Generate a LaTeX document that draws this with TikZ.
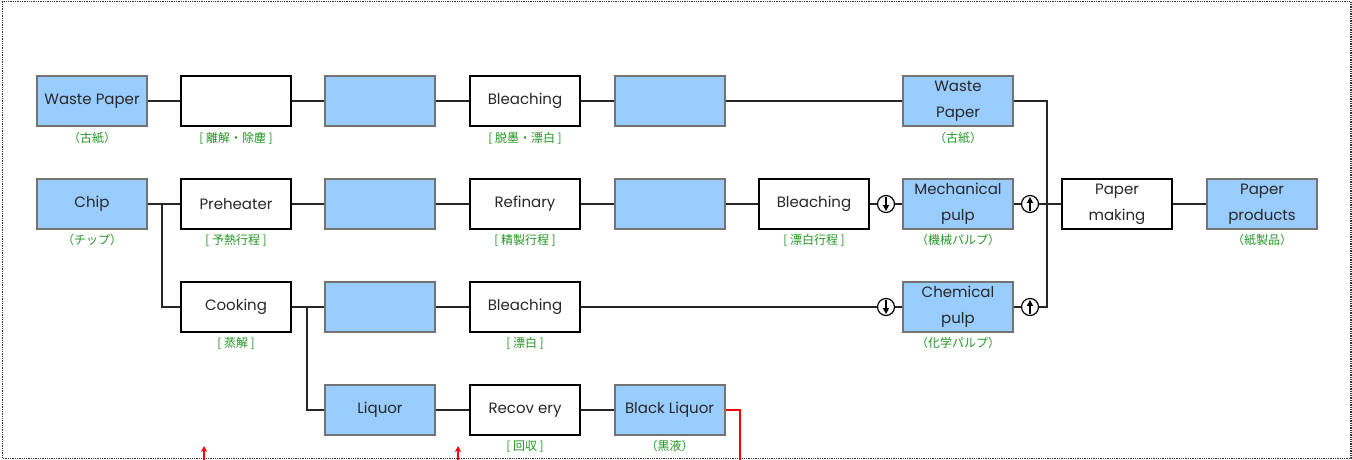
\documentclass[tikz,border=0pt]{standalone}
\usepackage{fontspec}
\setmainfont{Poppins}
\newfontfamily\cjk{Noto Sans CJK JP}
\usetikzlibrary{arrows.meta}
\definecolor{boxblue}{RGB}{153,204,255}
\definecolor{lblgreen}{RGB}{34,150,34}
\definecolor{txt}{RGB}{40,40,40}
\tikzset{
  blu/.style={draw=gray!90!black, line width=2pt, fill=boxblue, minimum width=110pt, minimum height=50pt, inner sep=0pt, align=center, text=txt, font=\fontsize{15}{26}\selectfont},
  proc/.style={draw=black, line width=2.2pt, fill=white, minimum width=110pt, minimum height=50pt, inner sep=0pt, align=center, text=txt, font=\fontsize{15}{26}\selectfont},
  lbl/.style={text=lblgreen, font=\cjk\fontsize{12}{14}\selectfont, inner sep=0pt},
  conn/.style={line width=1.2pt, black!85},
  valve/.style={circle, draw=black, line width=1.2pt, fill=white, minimum size=17pt, inner sep=0pt},
  redline/.style={red, line width=1.2pt},
  vtip/.style={line width=1.3pt, -{Triangle[length=6pt,width=6pt]}, shorten <=2.5pt, shorten >=2pt},
}
\begin{document}
\begin{tikzpicture}[x=1pt,y=-1pt]
\useasboundingbox (0,0) rectangle (1352,460);
\draw[densely dotted, black!80, line width=1.3pt] (2.5,1.5) rectangle (1351,458.5);

% row 1
\node[blu]  (wp1) at (92,101)  {Waste Paper};
\node[proc] (b2)  at (236,101) {};
\node[blu]  (b3)  at (380,101) {};
\node[proc] (bl1) at (525,101) {Bleaching};
\node[blu]  (b5)  at (669.5,101) {};
\node[blu]  (wp2) at (958,101) {Waste\\Paper};
% row 2
\node[blu]  (chip) at (92,204)  {Chip};
\node[proc] (pre)  at (236,204) {Preheater};
\node[blu]  (b7)   at (380,204) {};
\node[proc] (ref)  at (525,204) {Refinary};
\node[blu]  (b9)   at (669.5,204) {};
\node[proc] (bl2)  at (814,204) {Bleaching};
\node[blu]  (mp)   at (958,204) {Mechanical\\pulp};
\node[proc] (pm)   at (1117,204) {Paper\\making};
\node[blu]  (pp)   at (1262,204) {Paper\\products};
% row 3
\node[proc] (cook) at (236,307) {Cooking};
\node[blu]  (b11)  at (380,307) {};
\node[proc] (bl3)  at (525,307) {Bleaching};
\node[blu]  (cp)   at (958,307) {Chemical\\pulp};
% row 4
\node[blu]  (liq) at (380,410) {Liquor};
\node[proc] (rec) at (525,410) {Recov ery};
\node[blu]  (blq) at (669.5,410) {Black Liquor};

% valves
\node[valve] (v1) at (886,204) {};
\node[valve] (v2) at (1030,204) {};
\node[valve] (v3) at (886,307) {};
\node[valve] (v4) at (1030,307) {};
\foreach \v in {v1,v3}{ \draw[vtip] (\v.north) -- (\v.south); }
\foreach \v in {v2,v4}{ \draw[vtip] (\v.south) -- (\v.north); }

% labels
\node[lbl] (l1)  at (92,138)  {（古紙）};
\node[lbl] (l2)  at (236,138) {[ 離解・除塵 ]};
\node[lbl] (l3)  at (525,138) {[ 脱墨・漂白 ]};
\node[lbl] (l4)  at (958,138) {（古紙）};
\node[lbl] (l5)  at (92,240)  {（チップ）};
\node[lbl] (l6)  at (236,240) {[ 予熱行程 ]};
\node[lbl] (l7)  at (525,240) {[ 精製行程 ]};
\node[lbl] (l8)  at (814,240) {[ 漂白行程 ]};
\node[lbl] (l9)  at (958,240) {（機械パルプ）};
\node[lbl] (l10) at (1262,240) {（紙製品）};
\node[lbl] (l11) at (236,343) {[ 蒸解 ]};
\node[lbl] (l12) at (525,343) {[ 漂白 ]};
\node[lbl] (l13) at (958,343) {（化学パルプ）};
\node[lbl] (l14) at (525,446) {[ 回収 ]};
\node[lbl] (l15) at (669.5,446) {（黒液）};

% coordinates
\coordinate (jt) at (1047,101);
\coordinate (jb) at (1047,307);
\coordinate (k1) at (162,204);
\coordinate (k2) at (307,307);
\coordinate (r1) at (740,410);
\coordinate (r2) at (740,460);
\coordinate (a1s) at (204,460);
\coordinate (a1e) at (204,446);
\coordinate (a2s) at (458,460);
\coordinate (a2e) at (458,446);

% connectors row 1
\draw[conn] (wp1) -- (b2);
\draw[conn] (b2) -- (b3);
\draw[conn] (b3) -- (bl1);
\draw[conn] (bl1) -- (b5);
\draw[conn] (b5) -- (wp2);
\draw[conn] (wp2.east) -- (jt) -- (jb) -- (v4);
% row 2
\draw[conn] (chip) -- (pre);
\draw[conn] (k1) |- (cook.west);
\draw[conn] (pre) -- (b7);
\draw[conn] (b7) -- (ref);
\draw[conn] (ref) -- (b9);
\draw[conn] (b9) -- (bl2);
\draw[conn] (bl2) -- (v1);
\draw[conn] (v1) -- (mp);
\draw[conn] (mp) -- (v2);
\draw[conn] (v2) -- (pm);
\draw[conn] (pm) -- (pp);
% row 3
\draw[conn] (cook) -- (b11);
\draw[conn] (k2) |- (liq.west);
\draw[conn] (b11) -- (bl3);
\draw[conn] (bl3) -- (v3);
\draw[conn] (v3) -- (cp);
\draw[conn] (cp) -- (v4);
% row 4
\draw[conn] (liq) -- (rec);
\draw[conn] (rec) -- (blq);
\draw[redline] (blq.east) -- (r1) -- (r2);
\draw[redline, -{Stealth[length=6pt,width=6pt]}] (a1s) -- (a1e);
\draw[redline, -{Stealth[length=6pt,width=6pt]}] (a2s) -- (a2e);
\end{tikzpicture}
\end{document}
